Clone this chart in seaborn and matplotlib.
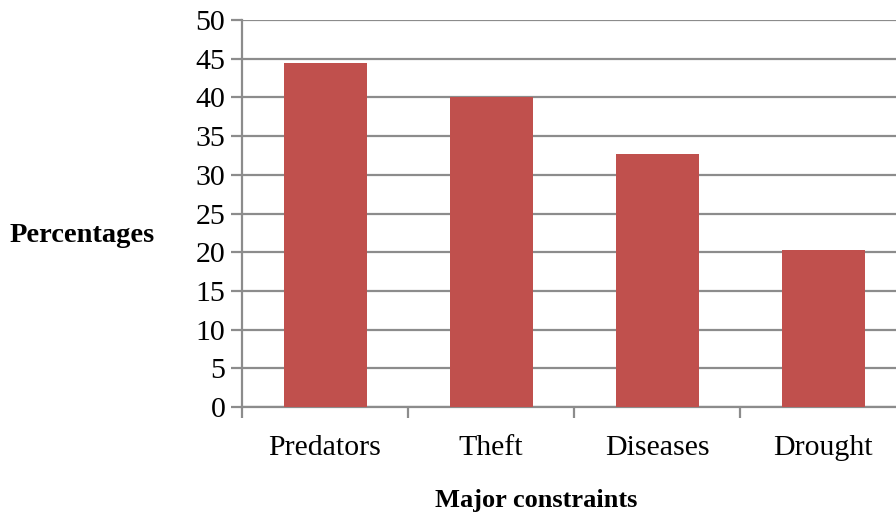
import matplotlib
matplotlib.use("Agg")
import matplotlib.pyplot as plt
import seaborn as sns
import pandas as pd

categories = ["Predators", "Theft", "Diseases", "Drought"]
percentages = [44.4, 40.0, 32.7, 20.3]
yticks = [0, 5, 10, 15, 20, 25, 30, 35, 40, 45, 50]

df = pd.DataFrame({"constraint": categories, "pct": percentages})

sns.set_style("white")
plt.rcParams["font.family"] = ["Liberation Serif", "DejaVu Serif"]
plt.rcParams["text.color"] = "black"
plt.rcParams["xtick.labelcolor"] = "black"
plt.rcParams["ytick.labelcolor"] = "black"

W, H = 896, 515
fig = plt.figure(figsize=(W / 100, H / 100), dpi=100)
ax = fig.add_axes([242 / W, 1 - 407 / H, 664 / W, 387 / H])

sns.barplot(data=df, x="constraint", y="pct", color="#C0504D", width=0.5,
            saturation=1, ax=ax, zorder=3, edgecolor="none", linewidth=0)

ax.set_xlim(-0.5, 3.5)
ax.set_ylim(0, 50)
ax.set_yticks(yticks)
ax.yaxis.grid(True, color="#8c8c8c", linewidth=1.6, zorder=0)
ax.set_axisbelow(True)
for s in ["top", "right"]:
    ax.spines[s].set_visible(False)
for s in ["left", "bottom"]:
    ax.spines[s].set_color("#8c8c8c")
    ax.spines[s].set_linewidth(1.6)

ax.tick_params(axis="y", which="major", direction="out", length=8, width=1.6,
               color="#8c8c8c", labelsize=21.5, pad=4, left=True)
ax.tick_params(axis="x", which="major", length=0, labelsize=21.5, pad=20)
ax.set_xticks([-0.5, 0.5, 1.5, 2.5], minor=True)
ax.tick_params(axis="x", which="minor", direction="out", length=8, width=1.6,
               color="#8c8c8c", bottom=True)
ax.set_xlabel("")
ax.set_ylabel("")

fig.text(10 / W, 1 - 235 / H, "Percentages", fontsize=20.5, fontweight="bold",
         ha="left", va="center")
fig.text(536 / W, 1 - 500 / H, "Major constraints", fontsize=19, fontweight="bold",
         ha="center", va="center")

fig.savefig("out.png", dpi=100)
